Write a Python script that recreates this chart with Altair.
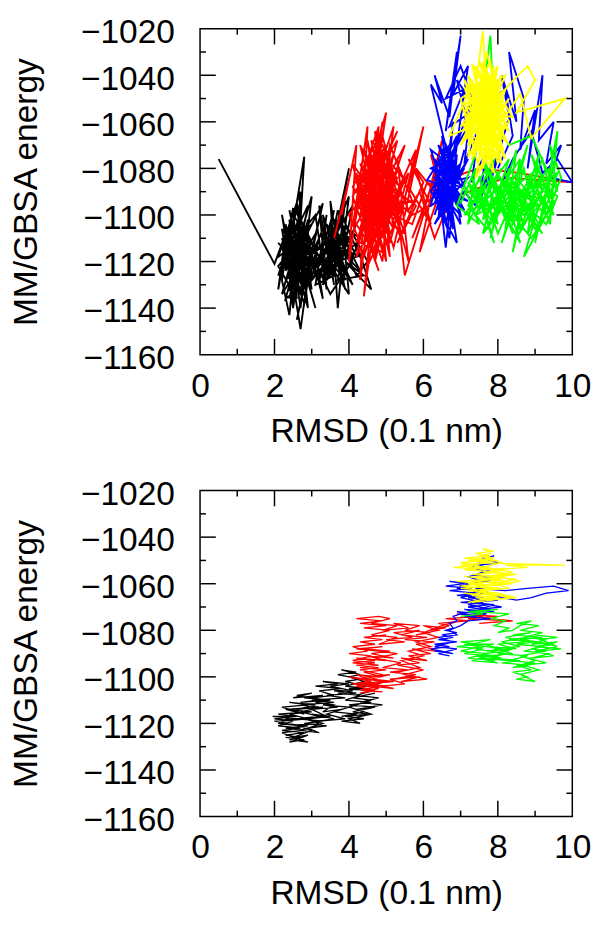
import altair as alt
import pandas as pd

# ---------------- data ----------------
X_LABELS = [0, 2, 4, 6, 8, 10]
X_MINOR = [1, 3, 5, 7, 9]
X_MAJOR_TICKS = [2, 4, 6, 8]
Y_LABELS = [-1160, -1140, -1120, -1100, -1080, -1060, -1040, -1020]
Y_MAJOR_TICKS = [-1140, -1120, -1100, -1080, -1060, -1040]
Y_MINOR = [-1150, -1130, -1110, -1090, -1070, -1050, -1030]

# top panel: raw trajectories (RMSD, energy)
TOP_BLACK = [
    (0.5, -1076), (2.0, -1121), (2.3, -1108), (2.1, -1132), (2.5, -1097), (2.2, -1128), (2.4, -1143), (2.6, -1112),
    (2.1, -1118), (2.7, -1090), (2.5, -1138), (2.9, -1103), (2.3, -1124), (2.8, -1075), (2.6, -1130), (2.2, -1100),
    (2.7, -1149), (3.0, -1114), (2.4, -1110), (2.9, -1140), (2.6, -1095), (3.1, -1126), (2.3, -1136), (2.8, -1106),
    (2.5, -1120), (3.0, -1092), (2.7, -1134), (2.2, -1114), (2.9, -1122), (2.6, -1145), (3.2, -1102), (2.8, -1128),
    (2.4, -1098), (2.7, -1118), (3.1, -1140), (2.5, -1106), (2.1, -1126), (2.8, -1112), (3.0, -1132), (2.6, -1116),
    (3.3, -1095), (2.9, -1124), (2.4, -1132), (2.7, -1102), (3.2, -1118), (2.5, -1128), (2.9, -1096), (2.3, -1116),
    (2.8, -1138), (3.1, -1108), (2.6, -1122), (3.4, -1112), (3.6, -1130), (3.3, -1100), (3.8, -1124), (3.5, -1094),
    (3.7, -1140), (3.9, -1108), (3.4, -1126), (4.0, -1080), (3.6, -1116), (3.9, -1132), (3.5, -1104), (4.1, -1120),
    (3.7, -1098), (3.3, -1130), (3.9, -1114), (4.2, -1104), (3.6, -1124), (4.0, -1134), (3.8, -1100), (4.3, -1118),
    (3.5, -1112), (4.1, -1096), (3.7, -1128), (4.4, -1126), (3.9, -1120), (4.6, -1132), (4.2, -1112), (3.8, -1118),
    (4.0, -1092), (3.6, -1108), (3.4, -1122), (3.1, -1116), (3.3, -1136), (2.9, -1110), (2.5, -1114), (2.2, -1106),
    (2.4, -1126), (2.8, -1120), (2.3, -1122), (2.6, -1104), (3.0, -1120), (2.7, -1126), (3.2, -1110), (2.9, -1130),
    (3.5, -1118), (3.8, -1112), (4.2, -1126), (4.5, -1120), (4.1, -1108), (3.7, -1114), (3.4, -1104), (3.9, -1126),
    (3.6, -1102), (4.3, -1110), (4.0, -1122), (3.5, -1134), (3.2, -1124), (2.8, -1130), (2.5, -1118), (2.2, -1122),
    (2.6, -1110), (3.0, -1104), (2.7, -1114), (2.4, -1120),
    (2.3, -1104), (2.7, -1134), (2.2, -1110), (2.9, -1128), (2.4, -1102), (2.6, -1136), (2.1, -1122), (2.8, -1108),
    (2.5, -1140), (2.3, -1112), (2.9, -1116), (2.2, -1134), (2.7, -1106), (2.4, -1130), (3.0, -1112), (2.5, -1100),
    (2.8, -1132), (2.3, -1118), (2.6, -1126), (3.1, -1120), (2.4, -1106), (2.7, -1140), (2.9, -1108), (2.2, -1120),
    (2.6, -1098), (3.0, -1128), (2.5, -1134), (2.8, -1114), (2.3, -1128), (3.2, -1114), (2.7, -1110), (2.4, -1136),
    (2.9, -1102), (2.6, -1120), (2.1, -1112), (2.8, -1124), (3.3, -1118), (3.7, -1110), (3.4, -1128), (4.0, -1114),
    (3.6, -1106), (3.9, -1128), (3.5, -1120), (4.2, -1118), (3.8, -1104), (3.4, -1116), (3.9, -1094), (3.7, -1120),
    (4.1, -1130), (3.6, -1112), (4.3, -1124), (3.8, -1108), (3.3, -1126), (2.9, -1116), (2.5, -1124), (2.8, -1104),
    (2.6, -1132), (2.4, -1114),
    (3.1, -1100), (3.4, -1132), (3.2, -1096), (3.5, -1124), (3.0, -1118), (3.3, -1106), (3.6, -1126), (3.1, -1130),
    (3.4, -1100), (3.2, -1122), (3.5, -1110), (3.0, -1126), (3.3, -1114), (3.6, -1098), (3.2, -1128), (3.4, -1118),
]
TOP_RED = [
    (3.6, -1110), (4.0, -1085), (3.8, -1100), (4.2, -1070), (4.0, -1120), (4.4, -1080), (4.1, -1105), (4.5, -1062),
    (4.3, -1128), (4.6, -1090), (4.2, -1098), (4.8, -1070), (4.4, -1135), (4.9, -1080), (4.5, -1110), (5.0, -1056),
    (4.3, -1094), (4.7, -1118), (5.1, -1075), (4.6, -1100), (4.9, -1060), (4.4, -1112), (5.2, -1090), (4.7, -1076),
    (4.2, -1118), (4.8, -1098), (5.3, -1068), (4.5, -1088), (5.0, -1120), (4.7, -1064), (5.4, -1104), (4.9, -1092),
    (4.3, -1078), (5.1, -1108), (4.6, -1068), (5.5, -1085), (4.8, -1112), (5.2, -1062), (4.4, -1100), (5.0, -1082),
    (5.6, -1120), (5.3, -1076), (4.7, -1096), (5.7, -1094), (5.1, -1070), (4.5, -1122), (5.4, -1090), (4.9, -1104),
    (5.8, -1072), (5.2, -1114), (4.6, -1084), (5.5, -1100), (6.0, -1062), (5.6, -1088), (6.2, -1104), (5.8, -1080),
    (6.4, -1092), (5.9, -1116), (6.5, -1068), (6.1, -1094), (5.7, -1110), (6.3, -1084), (6.8, -1076), (6.0, -1100),
    (5.5, -1126), (5.3, -1096), (4.9, -1086), (4.4, -1106), (4.8, -1124), (4.1, -1092), (4.6, -1078), (5.0, -1100),
    (4.3, -1086), (4.7, -1108), (5.2, -1082), (4.5, -1096), (4.9, -1074), (5.4, -1110), (4.8, -1088), (4.2, -1104),
    (4.6, -1114), (5.1, -1096), (4.4, -1072), (5.0, -1112), (5.5, -1094), (4.7, -1102), (5.3, -1084), (4.5, -1076),
    (5.1, -1118), (4.8, -1066), (5.6, -1098), (5.9, -1090), (6.3, -1110), (6.6, -1098), (6.2, -1074), (6.8, -1106),
    (6.4, -1088), (7.1, -1082), (7.5, -1080), (8.6, -1082), (10.0, -1086), (8.2, -1084), (6.9, -1092), (6.1, -1086),
    (5.7, -1104), (5.2, -1100), (4.9, -1094), (4.5, -1104), (4.3, -1090), (4.7, -1084), (5.0, -1090), (4.6, -1094),
    (4.9, -1116), (4.3, -1112), (4.0, -1100), (4.4, -1092), (4.8, -1080), (5.3, -1092), (5.0, -1098), (4.6, -1110),
    (4.2, -1082), (4.5, -1100),
    (4.4, -1084), (4.9, -1110), (4.3, -1070), (5.2, -1098), (4.6, -1116), (5.0, -1070), (4.2, -1090), (4.8, -1062),
    (4.5, -1106), (5.3, -1080), (4.7, -1120), (4.1, -1078), (5.1, -1102), (4.6, -1074), (4.4, -1118), (5.0, -1088),
    (4.3, -1100), (4.9, -1066), (5.4, -1098), (4.7, -1086), (4.2, -1112), (5.2, -1074), (4.8, -1102), (4.5, -1068),
    (5.0, -1108), (4.6, -1090), (5.3, -1064), (4.4, -1096), (4.9, -1120), (5.1, -1084), (4.3, -1106), (4.8, -1076),
    (5.5, -1108), (4.6, -1098), (4.1, -1088), (4.7, -1070), (5.2, -1094), (4.5, -1114), (5.0, -1078), (4.4, -1090),
    (4.9, -1100), (5.6, -1082), (5.1, -1112), (4.7, -1080), (4.3, -1096), (5.3, -1102), (4.8, -1092), (5.5, -1070),
    (5.0, -1094), (4.6, -1106), (5.4, -1088), (4.9, -1082), (4.2, -1094), (4.7, -1110), (5.2, -1086), (4.5, -1080),
    (5.8, -1096), (5.3, -1112), (6.0, -1086), (5.6, -1076), (6.2, -1096), (5.7, -1100), (5.1, -1092), (4.8, -1104),
    (4.4, -1082), (5.0, -1096), (4.6, -1088), (5.2, -1106), (4.9, -1072), (4.5, -1092),
]
TOP_BLUE = [
    (6.5, -1085), (6.8, -1072), (6.3, -1095), (6.9, -1080), (6.4, -1070), (7.0, -1098), (6.6, -1078), (6.2, -1090),
    (6.8, -1102), (6.5, -1066), (7.1, -1088), (6.3, -1080), (6.7, -1110), (6.9, -1074), (6.4, -1098), (7.0, -1082),
    (6.2, -1072), (6.6, -1092), (6.8, -1060), (6.5, -1094), (7.2, -1076), (6.3, -1104), (6.9, -1090), (6.1, -1085),
    (6.7, -1070), (7.0, -1104), (6.4, -1086), (6.6, -1114), (6.8, -1084), (6.2, -1044), (6.5, -1052), (6.3, -1040),
    (6.7, -1058), (6.9, -1030), (6.6, -1064), (7.0, -1023), (6.8, -1048), (7.2, -1036), (6.9, -1070), (7.3, -1050),
    (7.1, -1078), (7.5, -1062), (7.3, -1086), (7.7, -1072), (7.5, -1094), (7.9, -1080), (7.6, -1090), (8.1, -1070),
    (7.8, -1086), (8.3, -1058), (8.1, -1040), (8.5, -1060), (8.3, -1030), (8.7, -1050), (8.6, -1072), (9.0, -1055),
    (8.8, -1080), (9.2, -1040), (9.1, -1068), (9.5, -1060), (9.3, -1078), (9.7, -1070), (9.4, -1084), (10.0, -1086),
    (9.6, -1076), (9.2, -1082), (8.9, -1064), (8.4, -1076), (8.0, -1090), (7.7, -1084), (7.4, -1096), (7.1, -1090),
    (6.8, -1094), (6.5, -1100), (6.9, -1112), (6.6, -1080), (6.4, -1092), (6.7, -1086), (7.0, -1078), (6.3, -1088),
    (6.6, -1098), (6.9, -1084), (6.5, -1076), (6.2, -1096), (6.8, -1090), (7.1, -1072), (6.7, -1096), (6.4, -1082),
    (6.9, -1066), (6.6, -1088), (7.2, -1094), (6.5, -1090), (6.8, -1078),
    (6.4, -1076), (6.9, -1096), (6.5, -1072), (6.7, -1100), (6.3, -1084), (7.0, -1088), (6.6, -1070), (6.4, -1102),
    (6.8, -1080), (6.2, -1094), (6.9, -1076), (6.5, -1088), (7.1, -1098), (6.6, -1082), (6.3, -1076), (6.8, -1106),
    (6.5, -1080), (7.0, -1092), (6.4, -1078), (6.7, -1094), (6.9, -1070), (6.3, -1100), (6.6, -1086), (7.2, -1084),
    (6.5, -1096), (6.8, -1086), (6.2, -1080), (6.7, -1076), (7.0, -1100), (6.4, -1090), (6.9, -1082), (6.6, -1104),
    (6.3, -1092), (6.8, -1074), (6.5, -1086), (7.1, -1080), (6.6, -1094), (6.4, -1084),
    (7.2, -1062), (6.9, -1042), (7.4, -1054), (7.0, -1036), (6.6, -1050), (7.1, -1046), (6.7, -1062), (8.2, -1046),
    (8.4, -1066), (8.0, -1080),
]
TOP_GREEN = [
    (7.0, -1095), (7.4, -1080), (7.2, -1104), (7.7, -1086), (7.3, -1096), (7.9, -1076), (7.6, -1102), (8.1, -1088),
    (7.8, -1110), (8.3, -1080), (8.0, -1098), (8.5, -1072), (8.2, -1106), (8.7, -1090), (8.4, -1116), (8.9, -1082),
    (8.6, -1100), (9.1, -1074), (8.8, -1108), (9.3, -1090), (9.0, -1112), (9.5, -1078), (9.2, -1098), (9.6, -1064),
    (9.4, -1104), (9.0, -1086), (9.5, -1094), (8.7, -1118), (9.1, -1096), (8.5, -1084), (8.8, -1070), (8.3, -1100),
    (8.6, -1076), (8.0, -1090), (8.4, -1108), (7.8, -1082), (8.2, -1094), (7.6, -1076), (8.0, -1104), (7.5, -1090),
    (7.9, -1112), (7.3, -1084), (7.7, -1098), (7.1, -1088), (7.5, -1104), (6.9, -1096), (7.4, -1074), (7.8, -1023),
    (7.9, -1060), (8.3, -1070), (8.9, -1066), (9.3, -1080), (9.6, -1090), (9.4, -1070), (9.7, -1084), (9.3, -1100),
    (8.9, -1094), (8.6, -1106), (8.2, -1086), (8.8, -1098), (9.2, -1084), (8.5, -1094), (8.1, -1112), (8.7, -1080),
    (9.0, -1102), (8.4, -1088), (7.9, -1096), (8.3, -1076), (7.7, -1090), (8.1, -1080), (7.5, -1098), (7.2, -1086),
    (7.6, -1094), (8.0, -1084), (8.6, -1090), (9.1, -1104), (9.4, -1092), (8.9, -1074), (9.2, -1090), (8.7, -1100),
    (8.3, -1092), (7.8, -1102), (7.4, -1092), (7.9, -1086), (8.5, -1102), (9.0, -1092), (9.5, -1100), (9.1, -1080),
    (8.6, -1086), (8.2, -1098), (7.8, -1092), (8.4, -1096), (8.8, -1086), (9.3, -1096), (9.6, -1082),
    (7.4, -1100), (8.0, -1082), (7.6, -1108), (8.4, -1092), (7.9, -1080), (8.7, -1104), (8.2, -1082), (9.0, -1096),
    (8.5, -1110), (9.3, -1086), (8.8, -1102), (9.5, -1088), (9.0, -1080), (8.6, -1096), (9.2, -1108), (8.3, -1088),
    (7.9, -1104), (7.5, -1084), (7.2, -1096), (7.7, -1106), (8.1, -1092), (8.6, -1080), (9.1, -1090), (9.4, -1098),
    (8.9, -1110), (8.4, -1100), (7.8, -1096), (7.3, -1090), (7.7, -1080), (8.2, -1102), (8.7, -1094), (9.2, -1076),
    (9.5, -1096), (9.0, -1106), (8.5, -1090), (8.0, -1108), (7.6, -1088), (7.1, -1100), (7.5, -1096), (8.3, -1084),
    (8.9, -1098), (9.3, -1104), (9.6, -1092), (9.1, -1086), (8.8, -1092), (8.4, -1104), (8.1, -1090), (7.7, -1100),
    (8.0, -1094), (8.6, -1112), (8.3, -1096), (8.9, -1088), (9.4, -1080),
]
TOP_YELLOW = [
    (7.4, -1060), (7.1, -1045), (7.8, -1070), (7.3, -1035), (8.0, -1055), (7.2, -1075), (7.7, -1030), (8.2, -1062),
    (7.5, -1080), (7.0, -1050), (7.9, -1040), (7.4, -1072), (8.1, -1048), (7.3, -1058), (7.6, -1021), (7.8, -1078),
    (7.2, -1040), (8.3, -1070), (7.5, -1046), (7.9, -1082), (7.1, -1062), (8.0, -1036), (7.6, -1068), (7.3, -1050),
    (8.2, -1076), (7.7, -1044), (7.0, -1070), (7.8, -1052), (7.4, -1084), (8.1, -1066), (7.5, -1034), (8.4, -1058),
    (7.2, -1054), (7.9, -1064), (7.6, -1038), (8.0, -1074), (7.3, -1066), (7.7, -1056), (8.3, -1044), (8.8, -1036),
    (9.0, -1042), (8.5, -1056), (9.8, -1050), (8.9, -1067), (8.6, -1048), (8.1, -1060), (7.5, -1072), (7.8, -1046),
    (7.2, -1066), (7.6, -1052), (8.0, -1078), (7.4, -1042), (7.9, -1058), (6.7, -1066), (7.3, -1044), (7.7, -1074),
    (8.2, -1052), (7.5, -1062), (7.1, -1056), (7.8, -1034), (8.1, -1072), (7.4, -1050), (7.9, -1070), (7.6, -1046),
    (8.2, -1040), (7.3, -1074), (7.7, -1060), (8.0, -1048), (7.5, -1056), (7.2, -1048), (7.8, -1064), (7.4, -1068),
    (8.1, -1058), (7.6, -1076), (7.9, -1050), (7.3, -1054), (7.7, -1042), (8.3, -1064), (7.5, -1052), (7.1, -1064),
    (7.9, -1044), (7.6, -1060),
    (7.3, -1042), (8.0, -1068), (7.5, -1038), (7.9, -1076), (7.2, -1058), (8.2, -1046), (7.6, -1080), (7.4, -1036),
    (8.1, -1054), (7.1, -1068), (7.8, -1040), (7.5, -1066), (8.3, -1050), (7.3, -1076), (7.7, -1048), (8.0, -1062),
    (7.2, -1044), (7.9, -1072), (7.6, -1034), (8.2, -1068), (7.4, -1058), (7.0, -1062), (7.8, -1044), (7.5, -1074),
    (8.1, -1040), (7.3, -1062), (7.7, -1070), (8.0, -1042), (7.4, -1064), (7.9, -1052), (7.1, -1052), (7.6, -1072),
    (8.3, -1060), (7.7, -1038), (7.2, -1070), (7.9, -1036), (7.5, -1060), (8.1, -1078), (7.6, -1042), (7.3, -1056),
    (8.0, -1058), (7.8, -1074), (7.4, -1046), (8.2, -1056), (7.6, -1064), (7.1, -1042), (7.8, -1060), (7.5, -1044),
    (7.9, -1066), (7.3, -1050), (7.7, -1052), (8.0, -1072), (7.4, -1054), (7.8, -1056),
]

# bottom panel: smoothed trajectories
BOT_BLACK = [
    (2.3, -1126), (2.8, -1127), (2.4, -1128), (2.9, -1125), (2.5, -1126), (2.2, -1124), (2.8, -1123), (2.3, -1122),
    (2.9, -1121), (2.1, -1120), (2.7, -1121), (2.0, -1119), (2.6, -1118), (1.95, -1117), (2.5, -1117), (2.2, -1119),
    (2.9, -1118), (2.4, -1116), (3.0, -1115), (2.3, -1114), (2.8, -1116), (2.2, -1113), (2.9, -1112), (2.4, -1111),
    (3.1, -1112), (2.6, -1114), (3.3, -1113), (2.7, -1115), (3.2, -1117), (2.6, -1118), (3.3, -1119), (2.8, -1120),
    (3.4, -1121), (2.9, -1122), (3.2, -1124), (2.7, -1123), (3.3, -1120), (2.9, -1118), (3.5, -1117), (3.0, -1116),
    (3.6, -1118), (3.2, -1119), (3.9, -1118), (3.4, -1116), (3.8, -1114), (3.3, -1115), (3.6, -1112), (3.1, -1111),
    (3.5, -1110), (2.8, -1109), (3.3, -1108), (2.5, -1109), (3.0, -1107), (2.6, -1108), (3.2, -1110), (2.7, -1111),
    (3.4, -1110), (3.0, -1109), (3.6, -1108), (3.2, -1106), (3.8, -1105), (3.1, -1104), (3.7, -1103), (3.3, -1102),
    (4.0, -1103), (3.5, -1104), (4.1, -1106), (3.7, -1107), (4.3, -1108), (3.9, -1110), (4.6, -1111), (4.0, -1112),
    (4.7, -1113), (4.1, -1115), (4.5, -1116), (3.9, -1117), (4.4, -1118), (3.8, -1119), (4.3, -1120), (4.0, -1118),
    (4.6, -1116), (4.2, -1114), (4.9, -1112), (4.3, -1111), (4.8, -1109), (4.2, -1108), (4.6, -1106), (4.0, -1105),
    (4.5, -1104), (3.9, -1102), (4.3, -1101), (3.7, -1099), (4.2, -1098), (3.8, -1097), (4.3, -1099), (4.0, -1100),
    (4.4, -1102),
    (3.9, -1104), (4.5, -1105), (3.6, -1106), (4.2, -1107), (3.4, -1108), (3.9, -1109), (3.0, -1110), (3.6, -1111),
    (2.7, -1112), (3.2, -1113), (2.3, -1114), (2.9, -1115), (2.1, -1116), (2.6, -1117), (2.0, -1118), (2.5, -1119),
    (2.1, -1121), (2.7, -1122), (2.2, -1123), (2.8, -1124), (2.3, -1125), (2.7, -1126), (2.4, -1127), (2.9, -1128),
    (2.5, -1126), (3.0, -1123), (2.6, -1121), (3.2, -1120), (2.8, -1118), (3.4, -1117), (3.0, -1114), (3.7, -1113),
    (3.3, -1112), (4.0, -1113), (3.6, -1115), (4.2, -1116), (3.8, -1117), (4.4, -1115), (4.0, -1113), (4.6, -1110),
    (4.1, -1109), (4.7, -1107),
]
BOT_RED = [
    (4.4, -1106), (4.9, -1106.5), (4.3, -1105.5), (5.0, -1104), (4.5, -1103), (5.2, -1102), (4.6, -1101),
    (5.1, -1099), (4.4, -1100), (4.9, -1102), (4.3, -1103), (4.8, -1104),
    (4.2, -1104), (4.7, -1106), (4.3, -1107), (4.8, -1105), (4.1, -1103), (4.6, -1102), (4.0, -1100), (4.5, -1101),
    (4.2, -1099), (4.9, -1100), (4.4, -1098), (5.0, -1097), (4.3, -1096), (4.8, -1095), (4.1, -1094), (4.7, -1093),
    (4.2, -1092), (5.0, -1093), (4.5, -1091), (5.2, -1092), (4.6, -1090), (5.1, -1089), (4.4, -1088), (4.9, -1087),
    (4.2, -1088), (4.8, -1089), (5.3, -1090), (4.7, -1092), (5.4, -1094), (4.9, -1096), (5.6, -1097), (5.1, -1098),
    (5.8, -1099), (5.2, -1101), (5.9, -1100), (5.4, -1102), (6.1, -1101), (5.5, -1099), (6.0, -1097), (5.3, -1095),
    (5.9, -1094), (5.4, -1092), (6.1, -1093), (5.6, -1091), (6.2, -1090), (5.7, -1088), (6.4, -1089), (5.8, -1086),
    (6.3, -1085), (5.5, -1084), (6.1, -1083), (5.4, -1082), (5.9, -1080), (5.2, -1081), (5.7, -1083), (5.0, -1084),
    (5.5, -1085), (4.8, -1086), (5.3, -1083), (4.6, -1082), (5.1, -1080), (4.4, -1079), (5.0, -1078), (4.3, -1077),
    (4.9, -1076), (4.2, -1075), (4.8, -1074), (5.1, -1075), (4.6, -1077), (5.3, -1078), (4.9, -1080), (5.6, -1079),
    (5.2, -1077), (5.9, -1078), (5.5, -1080), (6.2, -1081), (5.8, -1082), (6.4, -1080), (6.0, -1078), (6.6, -1079),
    (6.2, -1080), (6.7, -1078), (6.4, -1077), (7.2, -1076), (6.6, -1075), (7.6, -1074), (6.9, -1073), (8.0, -1074),
    (7.2, -1075), (8.3, -1076), (7.5, -1077), (8.4, -1076), (7.8, -1075), (7.0, -1076),
    (6.5, -1078), (6.0, -1081), (6.4, -1083), (5.8, -1085), (6.2, -1087), (5.6, -1089), (6.0, -1091), (5.4, -1093),
    (5.9, -1096), (5.3, -1098), (5.7, -1100), (5.1, -1101), (5.5, -1103), (4.9, -1104), (5.2, -1105), (4.6, -1104),
    (5.0, -1102), (4.4, -1101), (4.9, -1099), (4.3, -1097), (4.8, -1096), (4.2, -1095), (4.7, -1094), (4.1, -1093),
    (4.6, -1091), (4.0, -1090), (4.5, -1089), (4.1, -1087), (4.7, -1086), (4.3, -1085), (4.9, -1084), (4.4, -1083),
    (5.0, -1082),
]
BOT_BLUE = [
    (6.3, -1089), (6.8, -1090), (6.2, -1088), (6.7, -1087), (6.3, -1086), (6.9, -1085), (6.4, -1084), (6.8, -1083),
    (6.5, -1082), (6.9, -1081), (6.6, -1080), (6.8, -1079), (6.7, -1077), (6.9, -1076), (6.8, -1074), (7.0, -1073),
    (7.4, -1074), (6.9, -1072), (7.6, -1073), (7.1, -1071), (7.9, -1072), (7.2, -1070), (7.8, -1069), (7.0, -1068),
    (7.7, -1067), (7.2, -1066), (8.0, -1067), (7.4, -1068), (8.1, -1070), (7.5, -1071), (7.9, -1069), (7.3, -1068),
    (7.6, -1066), (6.9, -1065), (7.4, -1064), (6.7, -1063), (7.3, -1062), (6.6, -1061), (7.1, -1060), (6.7, -1059),
    (7.3, -1060), (6.9, -1062), (7.5, -1063), (7.1, -1065), (7.8, -1064), (7.4, -1062), (8.2, -1063), (8.8, -1062),
    (9.5, -1061), (9.9, -1063), (9.3, -1064), (8.9, -1066), (8.5, -1067), (8.1, -1066), (7.7, -1064), (7.5, -1060),
    (7.9, -1058), (7.4, -1056), (7.8, -1054), (7.5, -1052), (8.0, -1051), (7.6, -1049), (7.9, -1048), (7.6, -1050),
    (7.3, -1053), (7.7, -1055), (7.2, -1057), (7.6, -1059), (7.0, -1061), (7.5, -1064), (7.0, -1066), (7.6, -1068),
    (7.2, -1069), (7.8, -1071), (7.3, -1072), (7.7, -1073),
    (7.1, -1074), (7.8, -1075), (7.2, -1076), (7.0, -1078), (6.7, -1080), (6.9, -1082), (6.4, -1083), (6.8, -1085),
    (6.3, -1087), (6.9, -1088), (6.4, -1090), (6.7, -1091),
]
BOT_GREEN = [
    (7.0, -1074), (7.6, -1073), (7.2, -1072), (8.0, -1071), (7.4, -1072), (8.3, -1073), (7.8, -1075), (8.2, -1076),
    (7.9, -1078), (8.3, -1079), (8.0, -1081), (8.4, -1080), (8.6, -1078), (8.9, -1076), (8.5, -1077), (9.1, -1078),
    (8.6, -1080), (9.2, -1081), (8.7, -1083), (9.3, -1084), (8.9, -1086), (9.6, -1085), (9.0, -1087), (9.7, -1088),
    (9.1, -1089), (9.5, -1091), (8.9, -1092), (9.4, -1090), (8.7, -1089), (9.2, -1087), (8.5, -1086), (9.0, -1085),
    (8.3, -1084), (8.8, -1083), (8.1, -1085), (8.6, -1087), (7.9, -1088), (8.4, -1090), (7.7, -1091), (8.3, -1093),
    (7.5, -1092), (8.0, -1094), (7.3, -1093), (7.8, -1091), (7.1, -1090), (7.6, -1088), (6.9, -1087), (7.5, -1086),
    (7.0, -1085), (7.8, -1084), (7.3, -1086), (8.1, -1088), (7.7, -1089), (8.4, -1088), (8.0, -1090), (8.8, -1091),
    (8.3, -1093), (9.0, -1094), (8.5, -1095), (8.9, -1097), (8.4, -1098), (8.8, -1100), (8.5, -1101), (9.0, -1102),
    (8.6, -1099), (9.1, -1097), (8.7, -1095), (9.3, -1094), (8.8, -1092), (9.5, -1091), (9.0, -1089), (9.6, -1087),
    (9.1, -1085),
    (8.6, -1084), (9.2, -1083), (8.4, -1082), (8.9, -1081), (8.2, -1083), (8.7, -1085), (8.0, -1086), (8.5, -1088),
    (7.8, -1087), (8.3, -1089), (7.6, -1090), (8.1, -1092), (7.4, -1091), (7.9, -1093), (7.2, -1092), (7.7, -1090),
    (7.0, -1089), (7.5, -1087), (7.1, -1086), (7.9, -1086), (7.4, -1088), (8.2, -1090), (7.8, -1092), (8.6, -1093),
    (8.1, -1094), (8.8, -1095), (8.4, -1096), (9.0, -1093), (8.6, -1091), (9.3, -1089), (8.9, -1088), (9.5, -1086),
    (9.1, -1084), (9.6, -1083), (9.0, -1082),
]
BOT_YELLOW = [
    (7.3, -1068), (7.9, -1067), (7.4, -1066), (8.2, -1065), (7.6, -1064), (8.4, -1066), (7.8, -1067), (8.5, -1066),
    (8.0, -1064), (7.2, -1063), (7.9, -1062), (7.0, -1061), (7.6, -1060), (6.9, -1059), (7.8, -1058), (7.1, -1057),
    (8.1, -1058), (7.3, -1059), (8.4, -1060), (7.7, -1061), (8.6, -1059), (8.0, -1057), (8.5, -1056), (7.6, -1055),
    (8.2, -1054), (7.2, -1053), (7.9, -1054), (6.8, -1053), (7.5, -1052), (7.0, -1051), (7.7, -1050), (7.1, -1049),
    (7.8, -1048), (7.4, -1047), (7.9, -1046), (7.6, -1045), (7.8, -1047), (7.3, -1049), (8.0, -1050), (7.5, -1051),
    (9.8, -1052), (8.2, -1052), (8.8, -1053), (7.8, -1054), (8.3, -1056), (7.4, -1057), (8.0, -1059), (7.2, -1060),
    (7.8, -1061), (7.0, -1062), (7.7, -1063), (7.3, -1065), (8.0, -1066), (7.5, -1067),
    (7.2, -1068), (7.8, -1066), (7.1, -1064), (7.9, -1065), (7.3, -1063), (8.1, -1062), (7.4, -1061), (8.3, -1059),
    (7.6, -1058), (8.2, -1057), (7.3, -1056), (8.0, -1055), (7.1, -1054), (7.8, -1053), (7.0, -1052), (7.7, -1051),
    (7.2, -1050), (7.9, -1049), (7.5, -1048), (8.1, -1051), (7.6, -1053), (8.4, -1055), (7.7, -1057), (8.5, -1058),
    (7.9, -1060), (8.3, -1062), (7.5, -1063), (8.0, -1064),
]

SERIES_COLORS = ["#000000", "#ff0000", "#0000ff", "#00ff00", "#ffff00"]

# ---------------- chart ----------------
W, H = 378, 331
FONT = "Liberation Sans"

x_scale = alt.Scale(domain=[0, 10], nice=False, zero=False)
y_scale = alt.Scale(domain=[-1160, -1020], nice=False, zero=False)

x_axis = alt.Axis(values=X_LABELS, format="d", title="RMSD (0.1 nm)", ticks=False, tickSize=0,
                  domain=False, grid=False, labelPadding=15, titlePadding=12, labelFlush=False)
y_axis = alt.Axis(values=Y_LABELS, format="d", title="MM/GBSA energy", ticks=False, tickSize=0,
                  domain=False, grid=False, labelPadding=26, titlePadding=38, labelOffset=4)


def series_df(pts):
    return pd.DataFrame({"x": [p[0] for p in pts], "y": [p[1] for p in pts],
                         "i": list(range(len(pts)))})


def line_layer(pts, color, width):
    return alt.Chart(series_df(pts)).mark_line(color=color, strokeWidth=width, clip=True).encode(
        x=alt.X("x:Q", scale=x_scale, axis=x_axis, title="RMSD (0.1 nm)"),
        y=alt.Y("y:Q", scale=y_scale, axis=y_axis, title="MM/GBSA energy"),
        order=alt.Order("i:Q"),
    )


def yticks(vals, x0, x1):
    return alt.Chart(pd.DataFrame({"y": vals})).mark_rule(color="black", strokeWidth=1.5).encode(
        y=alt.Y("y:Q", scale=y_scale, axis=y_axis, title="MM/GBSA energy"),
        x=alt.value(x0), x2=alt.value(x1))


def xticks(vals, y0, y1):
    return alt.Chart(pd.DataFrame({"x": vals})).mark_rule(color="black", strokeWidth=1.5).encode(
        x=alt.X("x:Q", scale=x_scale, axis=x_axis, title="RMSD (0.1 nm)"),
        y=alt.value(y0), y2=alt.value(y1))


MAJ, MIN = 16, 6


def tick_layers():
    return [
        yticks(Y_MAJOR_TICKS, 0, MAJ), yticks(Y_MINOR, 0, MIN),
        yticks(Y_MAJOR_TICKS, W - MAJ, W), yticks(Y_MINOR, W - MIN, W),
        xticks(X_MAJOR_TICKS, H, H - MAJ), xticks(X_MINOR, H, H - MIN),
        xticks(X_MAJOR_TICKS, 0, MAJ), xticks(X_MINOR, 0, MIN),
    ]


def panel(series_list, width):
    lines = [line_layer(pts, col, width) for pts, col in zip(series_list, SERIES_COLORS)]
    return alt.layer(*lines, *tick_layers()).properties(width=W, height=H)


top = panel([TOP_BLACK, TOP_RED, TOP_BLUE, TOP_GREEN, TOP_YELLOW], 1.9)
bottom = panel([BOT_BLACK, BOT_RED, BOT_BLUE, BOT_GREEN, BOT_YELLOW], 1.3)

chart = alt.vconcat(top, bottom, spacing=28).properties(
    padding={"left": 0, "top": 0, "right": 0, "bottom": 0}
).configure_view(stroke="black", strokeWidth=1.5).configure_axis(
    labelFont=FONT, titleFont=FONT, labelFontSize=34, titleFontSize=34,
    titleFontWeight="normal", labelColor="black", titleColor="black"
)

chart.save("out.html", embed_options={"renderer": "svg", "actions": False})
